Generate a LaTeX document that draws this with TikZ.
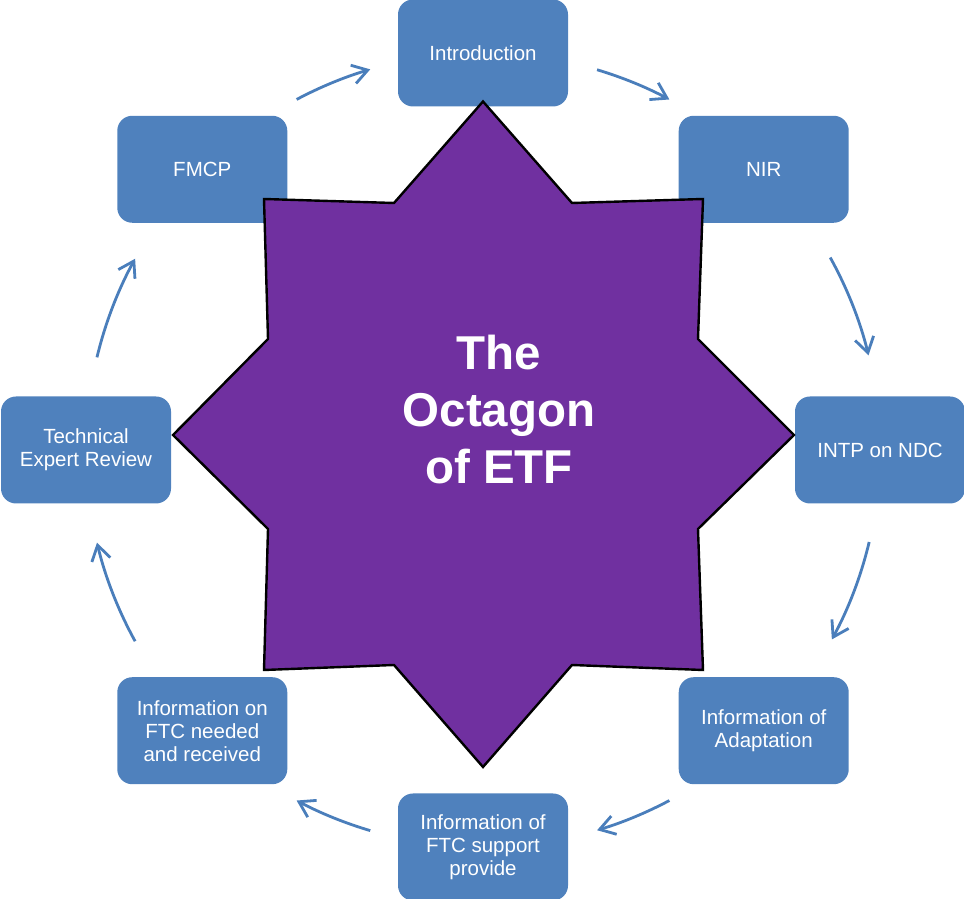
\documentclass[tikz,border=0pt]{standalone}
\usepackage{fontspec}
\setmainfont{Liberation Sans}
\usetikzlibrary{arrows.meta}
\definecolor{boxblue}{HTML}{4F81BD}
\definecolor{arrowblue}{HTML}{4A7EBB}
\definecolor{starpurple}{HTML}{7030A0}
\begin{document}
\begin{tikzpicture}[x=1pt,y=1pt,
  stagebox/.style={rectangle, rounded corners=15pt, fill=boxblue, text=white,
    minimum width=170pt, minimum height=107pt, inner sep=0pt, align=center,
    font=\fontsize{20.5}{23}\selectfont},
  cyclearrow/.style={draw=arrowblue, line width=2.8pt,
    -{Straight Barb[length=15pt,width=19pt]}},
  starline/.style={fill=starpurple, draw=black, line width=2.4pt},
  titletext/.style={text=white, align=center, inner sep=0pt,
    font=\bfseries\fontsize{47.5}{57}\selectfont}
  ]
\useasboundingbox (0,0) rectangle (964,899);
\coordinate (c) at (483,449);
% stage boxes
\node[stagebox] (intro) at ([shift={(90:397)}]c) {Introduction};
\node[stagebox] (nir) at ([shift={(45:397)}]c) {NIR};
\node[stagebox] (intp) at ([shift={(0:397)}]c) {INTP on NDC};
\node[stagebox] (adapt) at ([shift={(-45:397)}]c) {Information of\\Adaptation};
\node[stagebox] (support) at ([shift={(-90:397)}]c) {Information of\\FTC support\\provide};
\node[stagebox] (needed) at ([shift={(-135:397)}]c) {Information on\\FTC needed\\and received};
\node[stagebox] (ter) at ([shift={(180:397)}]c) {Technical\\Expert Review};
\node[stagebox] (fmcp) at ([shift={(135:397)}]c) {FMCP};
% cycle arrows
\draw[cyclearrow] ([shift={(118.0:397)}]c) arc[start angle=118.0, end angle=106.5, radius=397];
\draw[cyclearrow] ([shift={(73.3:397)}]c) arc[start angle=73.3, end angle=62.0, radius=397];
\draw[cyclearrow] ([shift={(29.0:397)}]c) arc[start angle=29.0, end angle=13.8, radius=397];
\draw[cyclearrow] ([shift={(-13.4:397)}]c) arc[start angle=-13.4, end angle=-28.5, radius=397];
\draw[cyclearrow] ([shift={(-62.0:397)}]c) arc[start angle=-62.0, end angle=-73.3, radius=397];
\draw[cyclearrow] ([shift={(-106.5:397)}]c) arc[start angle=-106.5, end angle=-118.0, radius=397];
\draw[cyclearrow] ([shift={(-151.2:397)}]c) arc[start angle=-151.2, end angle=-166.5, radius=397];
\draw[cyclearrow] ([shift={(166.5:397)}]c) arc[start angle=166.5, end angle=151.2, radius=397];
% eight-pointed star
\draw[starline] (483,797.5) -- (572,696) -- (703,700) -- (698,560) -- (794,464)
  -- (698,370) -- (703,229) -- (572,234) -- (483,132) -- (394,234)
  -- (264,229) -- (268,370) -- (173,464) -- (268,560) -- (264,700)
  -- (394,696) -- cycle;
\node[titletext] (title) at (499,489) {The\\Octagon\\of ETF};
\end{tikzpicture}
\end{document}
